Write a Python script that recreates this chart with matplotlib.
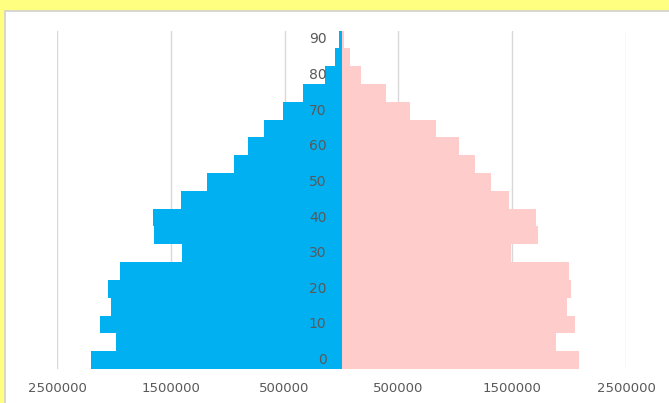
import matplotlib
matplotlib.use('Agg')
import matplotlib.pyplot as plt
from matplotlib.patches import Rectangle

# Age groups (5-year bands) and population counts
age_groups = [0, 5, 10, 15, 20, 25, 30, 35, 40, 45, 50, 55, 60, 65, 70, 75, 80, 85, 90]
male = [2200000, 1984000, 2121000, 2022000, 2051000, 1943000, 1400000, 1650000, 1656000,
        1406000, 1180000, 947000, 825000, 683000, 514000, 334000, 142000, 58000, 20000]
female = [2090000, 1889000, 2052000, 1982000, 2020000, 1997000, 1492000, 1724000, 1710000,
          1474000, 1311000, 1172000, 1030000, 834000, 605000, 393000, 169000, 79000, 24000]
x_ticks = [-2500000, -1500000, -500000, 500000, 1500000, 2500000]

male_color = '#00B0F0'
female_color = '#FFCCCC'
text_color = '#595959'
grid_color = '#D9D9D9'

W, H = 669, 403
fig = plt.figure(figsize=(W / 100, H / 100), dpi=100, facecolor='#FFFF80')

# white chart area with a thin grey frame
fig.patches.append(Rectangle((4.5 / W, -0.05), 1.2, (H - 10.5) / H + 0.05,
                             transform=fig.transFigure, facecolor='white',
                             edgecolor='#D0D0D0', linewidth=1.2, zorder=-1))

ax = fig.add_axes([57 / W, (H - 369) / H, (626 - 57) / W, (369 - 30.5) / H])
ax.set_facecolor('none')
ax.set_zorder(1)

pos = list(range(len(age_groups)))
ax.barh(pos, [-v for v in male], height=1.0, color=male_color, linewidth=0, zorder=2)
ax.barh(pos, female, height=1.0, color=female_color, linewidth=0, zorder=2)

ax.set_xlim(-2500000, 2500000)
ax.set_ylim(-0.5, len(age_groups) - 0.5)

ax.set_xticks(x_ticks)
ax.set_xticklabels([str(abs(t)) for t in x_ticks], fontsize=9.5, color=text_color)
ax.tick_params(axis='x', length=0, pad=9)
ax.set_yticks([])
ax.grid(axis='x', color=grid_color, linewidth=1.0, zorder=0)
ax.set_axisbelow(True)
for s in ax.spines.values():
    s.set_visible(False)

# age labels drawn next to the centre line, every 10 years
for i, age in enumerate(age_groups):
    if age % 10 == 0:
        ax.annotate(str(age), xy=(0, i), xytext=(-15, 0), textcoords='offset pixels',
                    ha='right', va='center', fontsize=10, color=text_color, zorder=3)

fig.savefig('out.png', dpi=100, facecolor=fig.get_facecolor())
